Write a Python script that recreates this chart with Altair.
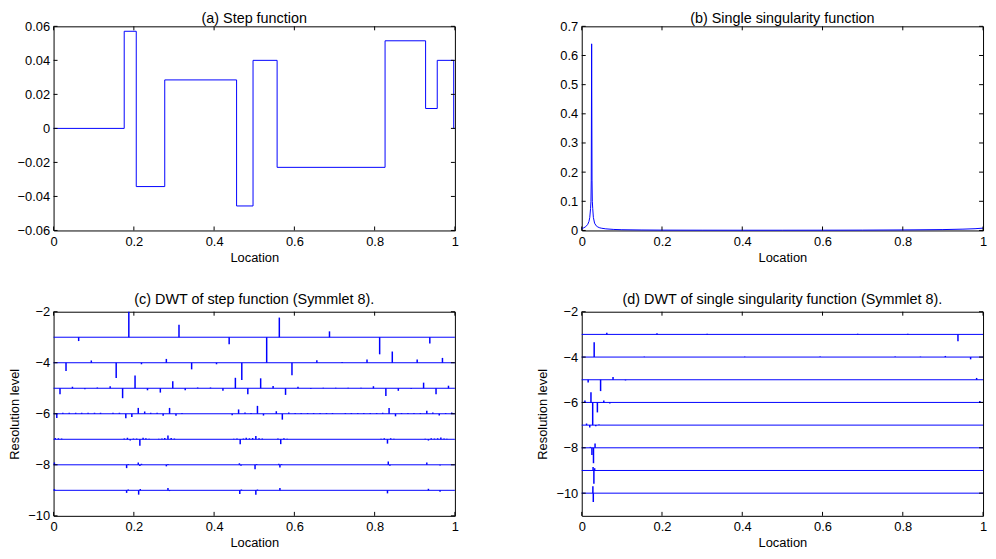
import altair as alt
import pandas as pd

W, H = 405, 206
BLUE = "#0000ff"
FONT = "Liberation Sans"

# ---------------- (a) Step function ----------------
A_X = [0.0, 0.176, 0.206, 0.277, 0.456, 0.497, 0.557, 0.826, 0.927, 0.956, 0.997, 1.0]
A_Y = [0.0, 0.0571, -0.0342, 0.0285, -0.0456, 0.040, -0.0229, 0.0515, 0.0117, 0.040, 0.0, 0.0]
A_YTICKS = [-0.06, -0.04, -0.02, 0.0, 0.02, 0.04, 0.06]

# ---------------- (b) Single singularity function ----------------
B_X = [0.0, 0.005, 0.01, 0.015, 0.018, 0.020, 0.022, 0.023, 0.0237, 0.0247, 0.0257,
       0.0264, 0.0274, 0.029, 0.032, 0.036, 0.04, 0.045, 0.05, 0.06, 0.08, 0.1,
       0.15, 0.2, 0.3, 0.4, 0.5, 0.6, 0.7, 0.8, 0.9, 0.95, 0.98, 1.0]
B_Y = [0.006, 0.009, 0.013, 0.021, 0.031, 0.044, 0.075, 0.10, 0.17, 0.64, 0.17,
       0.10, 0.075, 0.045, 0.025, 0.016, 0.012, 0.009, 0.0075, 0.0055, 0.0035, 0.0025,
       0.0016, 0.0012, 0.0009, 0.0008, 0.0008, 0.0009, 0.0012, 0.0018, 0.0030, 0.0045, 0.006, 0.008]
B_YTICKS = [0.0, 0.1, 0.2, 0.3, 0.4, 0.5, 0.6, 0.7]

X_TICKS = [0.0, 0.2, 0.4, 0.6, 0.8, 1.0]
DWT_YTICKS = [-10, -8, -6, -4, -2]

# ---------------- (c) DWT of step function: (location, coefficient) per level ----------------
C_L3 = [(0.0625, -0.15), (0.1875, 1.0), (0.3125, 0.49), (0.4375, -0.28), (0.5625, 0.77),
        (0.6875, 0.23), (0.8125, -0.67), (0.9375, -0.25)]
C_L4 = [(0.031, -0.32), (0.094, 0.09), (0.156, -0.6), (0.219, -0.06), (0.281, 0.15),
        (0.344, -0.26), (0.406, -0.06), (0.469, -0.68), (0.531, 1.0), (0.594, -0.49),
        (0.656, 0.1), (0.719, 0.03), (0.781, 0.13), (0.844, 0.44), (0.906, 0.13), (0.969, 0.19)]
C_L5 = [(0.016, -0.23), (0.047, 0.06), (0.078, -0.04), (0.109, 0.03), (0.141, 0.08),
        (0.172, -0.39), (0.203, 0.5), (0.234, -0.08), (0.266, -0.17), (0.297, 0.27),
        (0.328, -0.08), (0.359, 0.03), (0.391, 0.03), (0.422, -0.1), (0.453, 0.41),
        (0.484, -0.23), (0.516, 0.39), (0.547, 0.09), (0.578, -0.26), (0.609, 0.06),
        (0.641, -0.03), (0.672, 0.02), (0.703, 0.02), (0.734, 0.02), (0.766, 0.02),
        (0.797, 0.08), (0.828, -0.3), (0.859, -0.1), (0.891, -0.03), (0.922, 0.22),
        (0.953, -0.23), (0.984, 0.1)]
C_L6 = [(0.008, -0.17), (0.023, 0.04), (0.039, 0.04), (0.055, 0.04), (0.070, 0.04),
        (0.086, 0.04), (0.102, 0.04), (0.117, 0.04), (0.148, 0.04), (0.164, 0.04),
        (0.180, -0.18), (0.195, -0.13), (0.211, 0.23), (0.227, 0.09), (0.242, 0.04),
        (0.258, 0.04), (0.273, -0.08), (0.289, 0.23), (0.305, -0.08), (0.320, 0.03),
        (0.445, -0.06), (0.461, 0.17), (0.477, 0.05), (0.492, 0.03), (0.508, 0.31),
        (0.523, -0.07), (0.555, 0.1), (0.570, -0.23), (0.586, 0.05), (0.602, 0.03),
        (0.617, 0.03), (0.633, 0.03), (0.648, 0.03), (0.664, 0.03), (0.680, 0.03),
        (0.695, 0.03), (0.727, 0.03), (0.742, 0.03), (0.758, 0.03), (0.773, 0.03),
        (0.789, 0.03), (0.805, 0.03), (0.820, 0.04), (0.836, 0.23), (0.852, -0.1),
        (0.867, 0.03), (0.883, 0.03), (0.898, 0.03), (0.914, 0.03), (0.930, 0.12),
        (0.945, 0.05), (0.961, -0.07), (0.977, 0.03), (0.992, 0.05)]
C_L7 = [(0.004, 0.05), (0.012, 0.04), (0.020, 0.03), (0.176, 0.03), (0.184, 0.06),
        (0.191, -0.05), (0.199, 0.03), (0.207, 0.03), (0.215, -0.25), (0.223, 0.06),
        (0.230, 0.04), (0.238, 0.02), (0.262, 0.02), (0.270, 0.03), (0.277, 0.05),
        (0.285, 0.15), (0.293, 0.05), (0.301, 0.03), (0.449, 0.02), (0.457, 0.03),
        (0.465, -0.19), (0.473, 0.03), (0.480, 0.06), (0.488, 0.04), (0.496, 0.05),
        (0.504, 0.13), (0.512, 0.04), (0.520, 0.03), (0.559, 0.03), (0.566, -0.19),
        (0.574, 0.04), (0.582, 0.02), (0.816, 0.02), (0.824, 0.04), (0.832, -0.17),
        (0.840, 0.04), (0.848, 0.02), (0.926, 0.02), (0.934, -0.05), (0.941, 0.04),
        (0.949, 0.03), (0.957, 0.04), (0.965, 0.07), (0.973, 0.03), (0.980, 0.02)]
C_L8 = [(0.002, 0.09), (0.182, -0.13), (0.186, 0.03), (0.211, 0.09), (0.215, -0.05),
        (0.219, 0.04), (0.281, -0.06), (0.285, 0.03), (0.463, 0.06), (0.467, -0.04),
        (0.502, -0.17), (0.506, 0.03), (0.561, 0.04), (0.564, -0.11), (0.568, 0.03),
        (0.834, 0.13), (0.838, -0.04), (0.930, 0.09), (0.963, -0.03)]
C_L9 = [(0.002, 0.05), (0.182, -0.1), (0.186, 0.03), (0.212, -0.17), (0.216, 0.05),
        (0.285, 0.09), (0.289, -0.03), (0.464, -0.14), (0.468, 0.03), (0.504, -0.17),
        (0.508, 0.03), (0.564, 0.09), (0.832, -0.12), (0.934, 0.06), (0.963, -0.06)]
C_LEVELS = {3: C_L3, 4: C_L4, 5: C_L5, 6: C_L6, 7: C_L7, 8: C_L8, 9: C_L9}

# ---------------- (d) DWT of single singularity function ----------------
D_L3 = [(0.0625, 0.07), (0.1875, 0.05), (0.3125, 0.03), (0.6875, 0.03), (0.8125, 0.03), (0.9375, -0.3)]
D_L4 = [(0.031, 0.65), (0.156, 0.02), (0.406, 0.02), (0.594, 0.02), (0.781, 0.02),
        (0.844, 0.02), (0.906, 0.05), (0.969, -0.1)]
D_L5 = [(0.016, -0.12), (0.047, -0.5), (0.078, 0.12), (0.109, -0.03), (0.984, 0.08)]
D_L6 = [(0.008, 0.09), (0.023, 0.45), (0.039, -0.44), (0.055, 0.09), (0.070, -0.05), (0.992, 0.06)]
D_L7 = [(0.012, 0.07), (0.020, -0.1), (0.0273, 1.0), (0.035, -0.05), (0.043, 0.03)]
D_L8 = [(0.0215, 0.04), (0.0254, -0.32), (0.0293, -0.68), (0.0332, 0.19)]
D_L9 = [(0.0283, 0.15), (0.0303, -0.58), (0.0322, 0.1)]
D_L10 = [(0.0278, 0.3), (0.0288, -0.39)]
D_LEVELS = {3: D_L3, 4: D_L4, 5: D_L5, 6: D_L6, 7: D_L7, 8: D_L8, 9: D_L9, 10: D_L10}

XS = alt.Scale(domain=[0, 1], nice=False, zero=False)
X_AXIS = alt.Axis(values=X_TICKS, format=".1~f", title="Location")


def frame_ticks(xscale, yscale, xaxis, yaxis, xticks, yticks):
    dx = pd.DataFrame({"x": xticks})
    dy = pd.DataFrame({"y": yticks})
    bx = alt.Chart(dx).mark_rule(color="black", strokeWidth=1)
    by = alt.Chart(dy).mark_rule(color="black", strokeWidth=1)
    xe = alt.X("x:Q", scale=xscale, axis=xaxis)
    ye = alt.Y("y:Q", scale=yscale, axis=yaxis)
    return [
        bx.encode(x=xe, y=alt.value(H), y2=alt.value(H - 4)),
        bx.encode(x=xe, y=alt.value(0), y2=alt.value(4)),
        by.encode(y=ye, x=alt.value(0), x2=alt.value(4)),
        by.encode(y=ye, x=alt.value(W - 4), x2=alt.value(W)),
    ]


# (a)
ys_a = alt.Scale(domain=[-0.06, 0.06], nice=False, zero=False)
ya_axis = alt.Axis(values=A_YTICKS, format=".2~f", title=None)
line_a = alt.Chart(pd.DataFrame({"x": A_X, "y": A_Y})).mark_line(
    color=BLUE, strokeWidth=1, interpolate="step-after"
).encode(
    x=alt.X("x:Q", scale=XS, axis=X_AXIS),
    y=alt.Y("y:Q", scale=ys_a, axis=ya_axis),
)
chart_a = alt.layer(line_a, *frame_ticks(XS, ys_a, X_AXIS, ya_axis, X_TICKS, A_YTICKS)).properties(
    width=W, height=H, title="(a) Step function"
)

# (b)
ys_b = alt.Scale(domain=[0, 0.7], nice=False, zero=False)
yb_axis = alt.Axis(values=B_YTICKS, format=".1~f", title=None)
line_b = alt.Chart(pd.DataFrame({"x": B_X, "y": B_Y})).mark_line(
    color=BLUE, strokeWidth=1
).encode(
    x=alt.X("x:Q", scale=XS, axis=X_AXIS),
    y=alt.Y("y:Q", scale=ys_b, axis=yb_axis),
)
chart_b = alt.layer(line_b, *frame_ticks(XS, ys_b, X_AXIS, yb_axis, X_TICKS, B_YTICKS)).properties(
    width=W, height=H, title="(b) Single singularity function"
)


def dwt_panel(levels, ydomain, title):
    ys = alt.Scale(domain=ydomain, nice=False, zero=False)
    base_rows = pd.DataFrame({
        "x": [0.0] * len(levels),
        "x2": [1.0] * len(levels),
        "y": [-j for j in levels],
    })
    spike_rows = []
    for j, coefs in levels.items():
        for pos, val in coefs:
            spike_rows.append({"x": pos, "y": -j, "y2": -j + val})
    spikes_df = pd.DataFrame(spike_rows)
    yaxis = alt.Axis(values=DWT_YTICKS, format="d", title="Resolution level")
    baselines = alt.Chart(base_rows).mark_rule(color=BLUE, strokeWidth=1).encode(
        x=alt.X("x:Q", scale=XS, axis=X_AXIS),
        x2="x2:Q",
        y=alt.Y("y:Q", scale=ys, axis=yaxis),
    )
    spikes = alt.Chart(spikes_df).mark_rule(color=BLUE, strokeWidth=1.5).encode(
        x=alt.X("x:Q", scale=XS, axis=X_AXIS),
        y=alt.Y("y:Q", scale=ys, axis=yaxis),
        y2="y2:Q",
    )
    return alt.layer(
        baselines, spikes, *frame_ticks(XS, ys, X_AXIS, yaxis, X_TICKS, DWT_YTICKS)
    ).properties(width=W, height=H, title=alt.TitleParams(title, offset=-2))


chart_c = dwt_panel(C_LEVELS, [-10, -2], "(c) DWT of step function (Symmlet 8).")
chart_d = dwt_panel(D_LEVELS, [-11, -2], "(d) DWT of single singularity function (Symmlet 8).")

chart = alt.concat(
    chart_a, chart_b, chart_c, chart_d, columns=2, spacing={"row": 27, "column": 77}
).properties(
    padding=0
).configure_axis(
    labelFont=FONT, titleFont=FONT, labelFontSize=13, titleFontSize=13,
    titleFontWeight="normal", labelColor="black", titleColor="black",
    tickSize=0, domain=False, grid=False, labelFlush=False,
).configure_axisX(
    labelPadding=5, titlePadding=3
).configure_axisY(
    labelPadding=4, titlePadding=6
).configure_title(
    font=FONT, fontSize=14.5, fontWeight="normal", color="black", offset=-6,
    anchor="middle", frame="group"
).configure_view(
    stroke="black", strokeWidth=1
)

chart.save("out.html", embed_options={"renderer": "svg", "actions": False})
